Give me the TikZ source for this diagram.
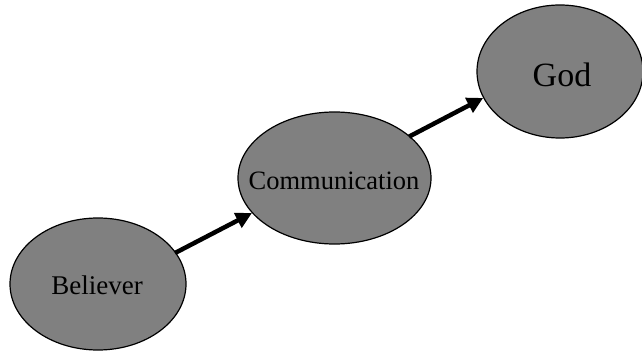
\documentclass[tikz,border=0pt]{standalone}
\usepackage{fontspec}
\setmainfont{Liberation Serif}
\usetikzlibrary{shapes.geometric,arrows.meta}
\definecolor{stipple}{gray}{0.5}
\tikzset{
  blob/.style={ellipse, draw=black, line width=1.2pt, fill=stipple, inner sep=0pt},
  lbl/.style={inner sep=0pt, text=black},
  link/.style={line width=4.5pt, -{Triangle[length=16pt,width=16pt]}, shorten <=-1pt}
}
\begin{document}
\begin{tikzpicture}[x=1pt,y=1pt]
\useasboundingbox (0,0) rectangle (642,351);
\node[blob, minimum width=176pt, minimum height=132pt] (bel) at (98,67) {};
\node[blob, minimum width=193pt, minimum height=132pt] (com) at (334.5,173) {};
\node[blob, minimum width=166pt, minimum height=133pt] (god) at (560,279.5) {};
\node[lbl, font=\fontsize{27}{27}\selectfont] (belT) at (97,66) {Believer};
\node[lbl, font=\fontsize{26.5}{26.5}\selectfont] (comT) at (334,170) {Communication};
\node[lbl, font=\fontsize{34}{34}\selectfont] (godT) at (562,276) {God};
\draw[link] (bel.22) -- (com.203);
\draw[link] (com.29) -- (god.199);
\end{tikzpicture}
\end{document}
